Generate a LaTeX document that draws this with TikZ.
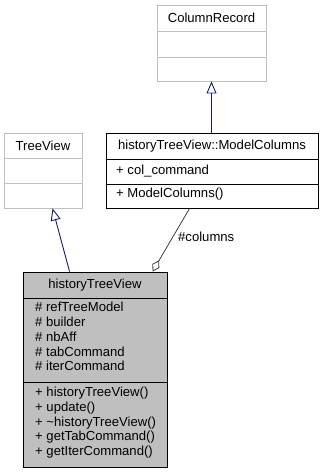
\documentclass[tikz,border=0pt]{standalone}
\usepackage{fontspec}
\setmainfont{Liberation Sans}
\usetikzlibrary{arrows.meta,calc}
\definecolor{edgeblue}{HTML}{191970}
\definecolor{boxgray}{HTML}{BFBFBF}
\definecolor{linkgray}{HTML}{404040}
\begin{document}
\begin{tikzpicture}[x=1pt,y=-1pt,
  font=\fontsize{13.1}{14.7}\selectfont,
  classbox/.style={draw=black, line width=0.9pt, fill=white, inner sep=0pt},
  extbox/.style={draw=boxgray, line width=0.9pt, fill=white, inner sep=0pt},
  curbox/.style={draw=black, line width=0.9pt, fill=boxgray, inner sep=0pt},
  title/.style={inner sep=0pt, anchor=center},
  member/.style={inner sep=0pt, anchor=mid west},
  inherit/.style={draw=edgeblue, line width=0.9pt, -{Triangle[open,length=12pt,width=10pt]}},
  compose/.style={draw=linkgray, line width=0.8pt, -{Diamond[open,length=13pt,width=8pt]}}]
\useasboundingbox (0,0) rectangle (323,472);

% ColumnRecord (external class)
\node[extbox, minimum width=109pt, minimum height=76pt] (cr) at (211.5,43) {};
\draw[boxgray, line width=0.9pt] (cr.west |- 0,31) -- (cr.east |- 0,31);
\draw[boxgray, line width=0.9pt] (cr.west |- 0,57) -- (cr.east |- 0,57);
\node[title] (crname) at (211.5,18) {ColumnRecord};

% TreeView (external class)
\node[extbox, minimum width=78pt, minimum height=75pt] (tv) at (43,170.5) {};
\draw[boxgray, line width=0.9pt] (tv.west |- 0,158) -- (tv.east |- 0,158);
\draw[boxgray, line width=0.9pt] (tv.west |- 0,183) -- (tv.east |- 0,183);
\node[title] (tvname) at (43,145.5) {TreeView};

% historyTreeView::ModelColumns
\node[classbox, minimum width=212pt, minimum height=75pt] (mc) at (212,170.5) {};
\draw[line width=0.9pt] (mc.west |- 0,159) -- (mc.east |- 0,159);
\draw[line width=0.9pt] (mc.west |- 0,184) -- (mc.east |- 0,184);
\node[title] (mcname) at (212,146) {historyTreeView::ModelColumns};
\node[member] (mcattr) at (116,171.5) {+ col\_command};
\node[member] (mcop) at (116,195) {+ ModelColumns()};

% historyTreeView
\node[curbox, minimum width=144pt, minimum height=195pt] (hv) at (95,369.5) {};
\draw[line width=0.9pt] (hv.west |- 0,298) -- (hv.east |- 0,298);
\draw[line width=0.9pt] (hv.west |- 0,382) -- (hv.east |- 0,382);
\node[title] (hvname) at (95,285) {historyTreeView};
\node[member] (a1) at (35,309) {\# refTreeModel};
\node[member] (a2) at (35,324) {\# builder};
\node[member] (a3) at (35,339) {\# nbAff};
\node[member] (a4) at (35,353.5) {\# tabCommand};
\node[member] (a5) at (35,368) {\# iterCommand};
\node[member] (o1) at (35,394) {+ historyTreeView()};
\node[member] (o2) at (35,409) {+ update()};
\node[member] (o3) at (35,423.5) {+ \textasciitilde historyTreeView()};
\node[member] (o4) at (35,438) {+ getTabCommand()};
\node[member] (o5) at (35,452.5) {+ getIterCommand()};

% generalisations
\draw[inherit] (cr.south |- mc.north) -- (cr.south);
\draw[inherit] ($(hv.north west)+(47,0)$) -- ($(tv.south west)+(49,0)$);

% aggregation
\draw[compose] ($(mc.south west)+(84,0)$) -- ($(hv.north west)+(130,0)$);
\node[member] (lbl) at (178,239) {\#columns};
\end{tikzpicture}
\end{document}
